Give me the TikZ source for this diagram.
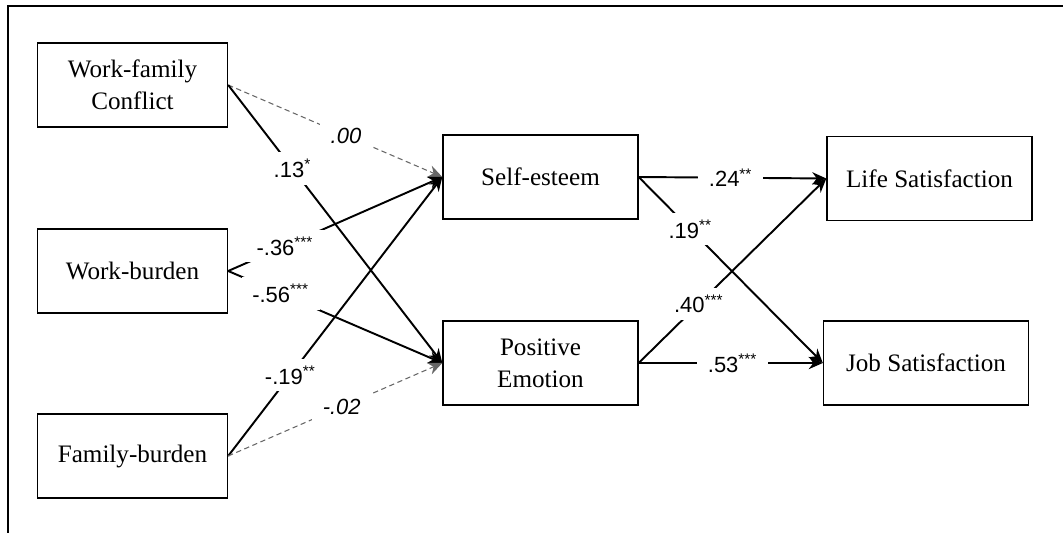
\documentclass[tikz,border=0pt]{standalone}
\usepackage{fontspec}
\setmainfont{Liberation Serif}
\newfontfamily\lblfont{Liberation Sans}
\usetikzlibrary{arrows.meta}

\begin{document}
\begin{tikzpicture}[x=0.02cm, y=-0.02cm,
    box/.style={draw, line width=0.8pt, minimum width=3.8cm, minimum height=1.68cm,
        align=center, font=\fontsize{14.3}{18}\selectfont},
    lbl/.style={fill=white, text=black, inner xsep=6pt, inner ysep=4pt,
        font=\lblfont\fontsize{12.5}{14}\selectfont},
    effect/.style={line width=1.1pt, -{Stealth[length=8pt, width=7pt]}},
    nsig/.style={gray!80!black, line width=0.6pt, dash pattern=on 3pt off 2pt,
        -{Stealth[length=8pt, width=7pt]}}]

\useasboundingbox (0,0) rectangle (1063,533);

%% frame
\draw[line width=0.9pt] (1063,6) -- (8,6) -- (8,533);

%% predictors
\node[box] (wfc) at (132.5, 85) {Work-family\\Conflict};
\node[box] (wb) at (132.5, 271) {Work-burden};
\node[box] (fb) at (132.5, 456) {Family-burden};

%% mediators
\node[box, minimum width=3.9cm] (se) at (540.5, 177) {Self-esteem};
\node[box, minimum width=3.9cm] (pe) at (540.5, 363) {Positive\\Emotion};

%% outcomes
\node[box, minimum width=4.1cm] (ls) at (929.5, 178.5) {Life Satisfaction};
\node[box, minimum width=4.1cm] (js) at (926, 363) {Job Satisfaction};

% first stage
\draw[nsig] (wfc.east) -- (se.west) node[lbl, pos=0.55] {\itshape .00};
\draw[effect] (wfc.east) -- (pe.west) node[lbl, pos=0.30] {.13\textsuperscript{*}};
\draw[effect] (wb.east) -- (se.west) node[lbl, pos=0.265] {-.36\textsuperscript{***}};
\draw[effect] (wb.east) -- (pe.west) node[lbl, pos=0.245] {-.56\textsuperscript{***}};
\draw[effect] (fb.east) -- (se.west) node[lbl, pos=0.29] {-.19\textsuperscript{**}};
\draw[nsig] (fb.east) -- (pe.west) node[lbl, pos=0.53] {\itshape -.02};

% second stage
\draw[effect] (se.east) -- (ls.west) node[lbl, pos=0.49] {.24\textsuperscript{**}};
\draw[effect] (se.east) -- (js.west) node[lbl, pos=0.28] {.19\textsuperscript{**}};
\draw[effect] (pe.east) -- (ls.west) node[lbl, pos=0.32] {.40\textsuperscript{***}};
\draw[effect] (pe.east) -- (js.west) node[lbl, pos=0.51] {.53\textsuperscript{***}};

\end{tikzpicture}
\end{document}
